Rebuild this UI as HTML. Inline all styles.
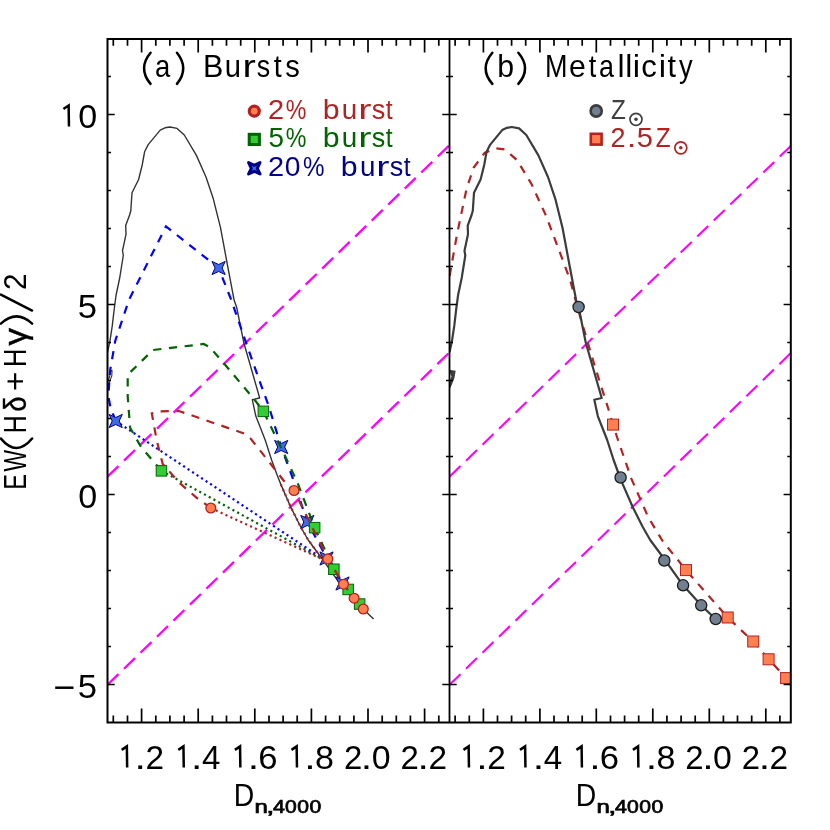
<!DOCTYPE html>
<html><head><meta charset="utf-8"><title>chart</title>
<style>
html,body{margin:0;padding:0;background:#fff;}
svg{display:block}
text{font-family:"Liberation Sans",sans-serif;}
svg{will-change:transform;opacity:0.999;}
</style></head><body>
<svg width="830" height="830" viewBox="0 0 830 830">
<rect x="0" y="0" width="830" height="830" fill="#ffffff"/>
<defs>
<clipPath id="cl"><rect x="107.5" y="39.0" width="342.0" height="683.5"/></clipPath>
<clipPath id="cr"><rect x="449.5" y="39.0" width="341.3" height="683.5"/></clipPath>
</defs>
<g clip-path="url(#cl)" fill="none">
<line x1="107.5" y1="476.7" x2="449.5" y2="145.2" stroke="#ff00ff" stroke-width="2.3" stroke-dasharray="15.3 7.7"/>
<line x1="107.5" y1="684.8" x2="449.5" y2="352.4" stroke="#ff00ff" stroke-width="2.3" stroke-dasharray="15.3 7.7"/>
<polyline points="107.5,352.2 109.9,341.3 112.3,325.7 114.1,310.0 116.1,295.0 119.7,278.0 123.3,255.5 122.5,250.7 126.0,234.3 125.7,225.6 129.6,215.0 130.8,210.8 132.0,192.8 138.6,179.5 142.2,165.0 144.6,151.8 148.2,144.6 160.2,130.1 165.0,127.8 169.9,127.0 177.1,128.4 184.3,135.0 196.4,155.4 206.0,177.0 213.3,198.8 220.5,227.7 227.7,266.3 234.1,300.0 236.6,307.0 243.8,342.7 259.7,398.0 252.3,399.7 255.8,416.1 265.2,440.0 271.6,460.0 277.3,475.5 280.7,484.1 290.8,507.2 300.5,526.5 308.2,540.0 322.3,559.0 341.1,585.3 359.2,605.3 373.6,619.1" stroke="#333" stroke-width="1.4" stroke-linejoin="round"/>
<polyline points="107.5,386.0 109.0,383.0 111.8,376.0 112.0,370.5 110.8,370.8 109.5,377.0 107.8,381.0" stroke="#333" stroke-width="1.1"/>
<line x1="115.7" y1="421" x2="324" y2="559.5" stroke="#0000ff" stroke-width="2.2" stroke-dasharray="2.1 3.3"/>
<polyline points="115.7,421.0 110.5,407.5 108.3,396.0 110.2,370.0 115.2,341.0 128.9,300.0 166.0,226.4 218.6,268.0 231.3,300.0 244.6,338.6 259.0,379.5 268.7,406.0 281.2,447.0 292.8,478.3 307.3,522.0 327.0,558.5 343.0,583.5" stroke="#0000ff" stroke-width="2.2" stroke-dasharray="8.2 7.6"/>
<polygon points="119.2,421.0 122.3,427.6 115.7,424.5 109.1,427.6 112.2,421.0 109.1,414.4 115.7,417.5 122.3,414.4" fill="#4169e1" stroke="#00008b" stroke-width="1" stroke-linejoin="miter"/>
<polygon points="222.1,268.0 225.2,274.6 218.6,271.5 212.0,274.6 215.1,268.0 212.0,261.4 218.6,264.5 225.2,261.4" fill="#4169e1" stroke="#00008b" stroke-width="1" stroke-linejoin="miter"/>
<polygon points="284.7,447.0 287.8,453.6 281.2,450.5 274.6,453.6 277.7,447.0 274.6,440.4 281.2,443.5 287.8,440.4" fill="#4169e1" stroke="#00008b" stroke-width="1" stroke-linejoin="miter"/>
<polygon points="310.8,522.0 313.9,528.6 307.3,525.5 300.7,528.6 303.8,522.0 300.7,515.4 307.3,518.5 313.9,515.4" fill="#4169e1" stroke="#00008b" stroke-width="1" stroke-linejoin="miter"/>
<polygon points="330.0,558.5 333.1,565.1 326.5,562.0 319.9,565.1 323.0,558.5 319.9,551.9 326.5,555.0 333.1,551.9" fill="#4169e1" stroke="#00008b" stroke-width="1" stroke-linejoin="miter"/>
<polygon points="346.0,583.5 349.1,590.1 342.5,587.0 335.9,590.1 339.0,583.5 335.9,576.9 342.5,580.0 349.1,576.9" fill="#4169e1" stroke="#00008b" stroke-width="1" stroke-linejoin="miter"/>
<line x1="161.4" y1="470.8" x2="325" y2="560.4" stroke="#006400" stroke-width="2.2" stroke-dasharray="2.1 3.3"/>
<polyline points="161.4,470.8 141.0,447.0 130.1,427.7 127.7,396.4 127.7,374.7 153.0,350.0 203.6,344.0 209.6,347.0 225.3,365.0 254.2,399.3 263.4,411.3 283.1,451.8 297.6,483.0 314.6,527.6 333.9,569.3 348.1,589.5 359.6,604.0" stroke="#006400" stroke-width="2.2" stroke-dasharray="8.2 7.6"/>
<rect x="156.2" y="465.6" width="10.5" height="10.5" fill="#32cd32" stroke="#006400" stroke-width="1"/>
<rect x="258.1" y="406.1" width="10.5" height="10.5" fill="#32cd32" stroke="#006400" stroke-width="1"/>
<rect x="309.4" y="522.4" width="10.5" height="10.5" fill="#32cd32" stroke="#006400" stroke-width="1"/>
<rect x="328.6" y="564.0" width="10.5" height="10.5" fill="#32cd32" stroke="#006400" stroke-width="1"/>
<rect x="342.9" y="584.2" width="10.5" height="10.5" fill="#32cd32" stroke="#006400" stroke-width="1"/>
<rect x="354.4" y="598.8" width="10.5" height="10.5" fill="#32cd32" stroke="#006400" stroke-width="1"/>
<line x1="210.8" y1="508" x2="326" y2="560.9" stroke="#b22222" stroke-width="2.2" stroke-dasharray="2.1 3.3"/>
<polyline points="280.7,484.1 290.8,507.2 300.5,526.5 308.2,540 322.3,559 326,563" stroke="#b22222" stroke-width="2.2" stroke-dasharray="2.1 3.3"/>
<polyline points="210.8,508.0 196.4,497.6 179.5,483.0 162.7,463.9 156.6,439.8 151.8,413.3 160.2,411.3 179.0,411.0 203.6,419.5 244.6,433.7 250.6,438.6 268.7,461.4 285.5,483.0 294.0,490.5 327.8,558.9 343.5,584.2 354.1,598.2 363.3,609.0" stroke="#b22222" stroke-width="2.2" stroke-dasharray="8.2 7.6"/>
<circle cx="210.8" cy="508.0" r="4.9" fill="#ff7f50" stroke="#b22222" stroke-width="1.3"/>
<circle cx="294.0" cy="490.5" r="4.9" fill="#ff7f50" stroke="#b22222" stroke-width="1.3"/>
<circle cx="327.8" cy="558.9" r="4.9" fill="#ff7f50" stroke="#b22222" stroke-width="1.3"/>
<circle cx="343.5" cy="584.2" r="4.9" fill="#ff7f50" stroke="#b22222" stroke-width="1.3"/>
<circle cx="354.1" cy="598.2" r="4.9" fill="#ff7f50" stroke="#b22222" stroke-width="1.3"/>
<circle cx="363.3" cy="609.0" r="4.9" fill="#ff7f50" stroke="#b22222" stroke-width="1.3"/>
</g>
<g clip-path="url(#cr)" fill="none">
<line x1="449.5" y1="476.7" x2="791.5" y2="145.2" stroke="#ff00ff" stroke-width="2.1" stroke-dasharray="15.3 7.7"/>
<line x1="449.5" y1="684.8" x2="791.5" y2="352.4" stroke="#ff00ff" stroke-width="2.1" stroke-dasharray="15.3 7.7"/>
<polyline points="449.6,276.0 456.9,235.0 466.5,189.0 473.7,167.5 484.6,153.0 495.4,148.2 505.0,149.4 517.1,160.2 531.6,184.3 546.0,215.7 560.5,254.2 570.1,280.0 578.6,311.3 594.2,364.3 608.7,410.0 613.0,424.6 618.0,440.0 631.3,478.6 648.2,517.1 662.7,541.2 686.0,570.1 727.7,617.5 753.2,641.5 768.6,659.3 786.1,678.1" stroke="#b22222" stroke-width="2.2" stroke-dasharray="8.2 7.6"/>
<polyline points="449.5,352.2 451.9,341.3 454.3,325.7 456.1,310.0 458.1,295.0 461.7,278.0 465.3,255.5 464.5,250.7 468.0,234.3 467.7,225.6 471.6,215.0 472.8,210.8 474.0,192.8 480.6,179.5 484.2,165.0 486.6,151.8 490.2,144.6 502.2,130.1 507.0,127.8 511.9,127.0 519.1,128.4 526.3,135.0 538.4,155.4 548.0,177.0 555.3,198.8 562.5,227.7 569.7,266.3 576.1,300.0 578.6,307.0 585.8,342.7 601.7,398.0 594.3,399.7 597.8,416.1 607.2,440.0 613.6,460.0 619.3,475.5 622.7,484.1 632.8,507.2 642.5,526.5 650.2,540.0 664.3,559.0 683.1,585.3 701.2,605.3 715.6,619.1" stroke="#3c3c3c" stroke-width="2.2" stroke-linejoin="round"/>
<polygon points="450.3,370.6 455.0,371.2 453.8,378.0 450.0,387.5 449.5,383.0 452.2,376.5 451.0,374.0" fill="#3c3c3c" stroke="#3c3c3c" stroke-width="1.2"/>
</g>
<g clip-path="url(#cr)">
<rect x="607.5" y="419.1" width="11.0" height="11.0" fill="#ff7f50" stroke="#b22222" stroke-width="1"/>
<rect x="680.5" y="564.6" width="11.0" height="11.0" fill="#ff7f50" stroke="#b22222" stroke-width="1"/>
<rect x="722.2" y="612.0" width="11.0" height="11.0" fill="#ff7f50" stroke="#b22222" stroke-width="1"/>
<rect x="747.7" y="636.0" width="11.0" height="11.0" fill="#ff7f50" stroke="#b22222" stroke-width="1"/>
<rect x="763.1" y="653.8" width="11.0" height="11.0" fill="#ff7f50" stroke="#b22222" stroke-width="1"/>
<rect x="780.6" y="672.6" width="11.0" height="11.0" fill="#ff7f50" stroke="#b22222" stroke-width="1"/>
<circle cx="578.6" cy="307.0" r="5.6" fill="#708090" stroke="#1a1a1a" stroke-width="1.3"/>
<circle cx="620.6" cy="477.5" r="5.6" fill="#708090" stroke="#1a1a1a" stroke-width="1.3"/>
<circle cx="664.3" cy="560.5" r="5.6" fill="#708090" stroke="#1a1a1a" stroke-width="1.3"/>
<circle cx="683.1" cy="585.3" r="5.6" fill="#708090" stroke="#1a1a1a" stroke-width="1.3"/>
<circle cx="701.2" cy="605.3" r="5.6" fill="#708090" stroke="#1a1a1a" stroke-width="1.3"/>
<circle cx="715.7" cy="619.0" r="5.6" fill="#708090" stroke="#1a1a1a" stroke-width="1.3"/>
</g>
<g stroke="#000" stroke-width="2" fill="none" stroke-linecap="butt">
<rect x="107.5" y="39.0" width="683.3" height="683.5"/>
<line x1="449.5" y1="39.0" x2="449.5" y2="722.5" stroke-width="1.8"/>
<path d="M113.3 722.5 V715.5 M113.3 39.0 V45.8 M127.5 722.5 V715.5 M127.5 39.0 V45.8 M141.6 722.5 V708.5 M141.6 39.0 V52.5 M155.8 722.5 V715.5 M155.8 39.0 V45.8 M169.9 722.5 V715.5 M169.9 39.0 V45.8 M184.1 722.5 V715.5 M184.1 39.0 V45.8 M198.2 722.5 V708.5 M198.2 39.0 V52.5 M212.4 722.5 V715.5 M212.4 39.0 V45.8 M226.5 722.5 V715.5 M226.5 39.0 V45.8 M240.7 722.5 V715.5 M240.7 39.0 V45.8 M254.8 722.5 V708.5 M254.8 39.0 V52.5 M269.0 722.5 V715.5 M269.0 39.0 V45.8 M283.1 722.5 V715.5 M283.1 39.0 V45.8 M297.2 722.5 V715.5 M297.2 39.0 V45.8 M311.4 722.5 V708.5 M311.4 39.0 V52.5 M325.6 722.5 V715.5 M325.6 39.0 V45.8 M339.7 722.5 V715.5 M339.7 39.0 V45.8 M353.9 722.5 V715.5 M353.9 39.0 V45.8 M368.0 722.5 V708.5 M368.0 39.0 V52.5 M382.2 722.5 V715.5 M382.2 39.0 V45.8 M396.3 722.5 V715.5 M396.3 39.0 V45.8 M410.4 722.5 V715.5 M410.4 39.0 V45.8 M424.6 722.5 V708.5 M424.6 39.0 V52.5 M438.8 722.5 V715.5 M438.8 39.0 V45.8 M455.1 722.5 V715.5 M455.1 39.0 V45.8 M469.3 722.5 V715.5 M469.3 39.0 V45.8 M483.4 722.5 V708.5 M483.4 39.0 V52.5 M497.5 722.5 V715.5 M497.5 39.0 V45.8 M511.6 722.5 V715.5 M511.6 39.0 V45.8 M525.7 722.5 V715.5 M525.7 39.0 V45.8 M539.9 722.5 V708.5 M539.9 39.0 V52.5 M554.0 722.5 V715.5 M554.0 39.0 V45.8 M568.1 722.5 V715.5 M568.1 39.0 V45.8 M582.2 722.5 V715.5 M582.2 39.0 V45.8 M596.3 722.5 V708.5 M596.3 39.0 V52.5 M610.5 722.5 V715.5 M610.5 39.0 V45.8 M624.6 722.5 V715.5 M624.6 39.0 V45.8 M638.7 722.5 V715.5 M638.7 39.0 V45.8 M652.8 722.5 V708.5 M652.8 39.0 V52.5 M666.9 722.5 V715.5 M666.9 39.0 V45.8 M681.1 722.5 V715.5 M681.1 39.0 V45.8 M695.2 722.5 V715.5 M695.2 39.0 V45.8 M709.3 722.5 V708.5 M709.3 39.0 V52.5 M723.4 722.5 V715.5 M723.4 39.0 V45.8 M737.5 722.5 V715.5 M737.5 39.0 V45.8 M751.7 722.5 V715.5 M751.7 39.0 V45.8 M765.8 722.5 V708.5 M765.8 39.0 V52.5 M779.9 722.5 V715.5 M779.9 39.0 V45.8 M107.5 684.5 H114.7 M442.3 684.5 H456.7 M790.8 684.5 H783.6 M107.5 646.5 H111.0 M446.0 646.5 H453.0 M790.8 646.5 H787.3 M107.5 608.5 H111.0 M446.0 608.5 H453.0 M790.8 608.5 H787.3 M107.5 570.5 H111.0 M446.0 570.5 H453.0 M790.8 570.5 H787.3 M107.5 532.5 H111.0 M446.0 532.5 H453.0 M790.8 532.5 H787.3 M107.5 494.5 H114.7 M442.3 494.5 H456.7 M790.8 494.5 H783.6 M107.5 456.5 H111.0 M446.0 456.5 H453.0 M790.8 456.5 H787.3 M107.5 418.5 H111.0 M446.0 418.5 H453.0 M790.8 418.5 H787.3 M107.5 380.5 H111.0 M446.0 380.5 H453.0 M790.8 380.5 H787.3 M107.5 342.5 H111.0 M446.0 342.5 H453.0 M790.8 342.5 H787.3 M107.5 304.5 H114.7 M442.3 304.5 H456.7 M790.8 304.5 H783.6 M107.5 266.5 H111.0 M446.0 266.5 H453.0 M790.8 266.5 H787.3 M107.5 228.5 H111.0 M446.0 228.5 H453.0 M790.8 228.5 H787.3 M107.5 190.5 H111.0 M446.0 190.5 H453.0 M790.8 190.5 H787.3 M107.5 152.5 H111.0 M446.0 152.5 H453.0 M790.8 152.5 H787.3 M107.5 114.5 H114.7 M442.3 114.5 H456.7 M790.8 114.5 H783.6 M107.5 76.5 H111.0 M446.0 76.5 H453.0 M790.8 76.5 H787.3" stroke-width="1.7"/>
</g>
<path d="M121.70 749.90 L126.85 746.40 L127.15 767.50" fill="none" stroke="#000" stroke-width="2.5" stroke-linejoin="miter"/>
<text transform="translate(134.46,768.70) scale(1.241,1)" font-size="33" fill="#000">.</text>
<text transform="translate(145.42,768.70) scale(1.011,1)" font-size="33" fill="#000">2</text>
<path d="M178.30 749.90 L183.45 746.40 L183.75 767.50" fill="none" stroke="#000" stroke-width="2.5" stroke-linejoin="miter"/>
<text transform="translate(191.06,768.70) scale(1.241,1)" font-size="33" fill="#000">.</text>
<text transform="translate(202.04,768.70) scale(1.004,1)" font-size="33" fill="#000">4</text>
<path d="M234.90 749.90 L240.05 746.40 L240.35 767.50" fill="none" stroke="#000" stroke-width="2.5" stroke-linejoin="miter"/>
<text transform="translate(247.66,768.70) scale(1.241,1)" font-size="33" fill="#000">.</text>
<text transform="translate(258.14,768.70) scale(1.051,1)" font-size="33" fill="#000">6</text>
<path d="M291.50 749.90 L296.65 746.40 L296.95 767.50" fill="none" stroke="#000" stroke-width="2.5" stroke-linejoin="miter"/>
<text transform="translate(304.26,768.70) scale(1.241,1)" font-size="33" fill="#000">.</text>
<text transform="translate(315.02,768.70) scale(1.033,1)" font-size="33" fill="#000">8</text>
<text transform="translate(343.94,768.70) scale(0.998,1)" font-size="33" fill="#000">2</text>
<text transform="translate(360.86,768.70) scale(1.241,1)" font-size="33" fill="#000">.</text>
<text transform="translate(371.68,768.70) scale(1.027,1)" font-size="33" fill="#000">0</text>
<text transform="translate(400.54,768.70) scale(0.998,1)" font-size="33" fill="#000">2</text>
<text transform="translate(417.46,768.70) scale(1.241,1)" font-size="33" fill="#000">.</text>
<text transform="translate(428.42,768.70) scale(1.011,1)" font-size="33" fill="#000">2</text>
<path d="M463.49 749.90 L468.64 746.40 L468.94 767.50" fill="none" stroke="#000" stroke-width="2.5" stroke-linejoin="miter"/>
<text transform="translate(476.25,768.70) scale(1.241,1)" font-size="33" fill="#000">.</text>
<text transform="translate(487.21,768.70) scale(1.011,1)" font-size="33" fill="#000">2</text>
<path d="M519.97 749.90 L525.12 746.40 L525.42 767.50" fill="none" stroke="#000" stroke-width="2.5" stroke-linejoin="miter"/>
<text transform="translate(532.73,768.70) scale(1.241,1)" font-size="33" fill="#000">.</text>
<text transform="translate(543.71,768.70) scale(1.004,1)" font-size="33" fill="#000">4</text>
<path d="M576.45 749.90 L581.60 746.40 L581.90 767.50" fill="none" stroke="#000" stroke-width="2.5" stroke-linejoin="miter"/>
<text transform="translate(589.21,768.70) scale(1.241,1)" font-size="33" fill="#000">.</text>
<text transform="translate(599.69,768.70) scale(1.051,1)" font-size="33" fill="#000">6</text>
<path d="M632.93 749.90 L638.08 746.40 L638.38 767.50" fill="none" stroke="#000" stroke-width="2.5" stroke-linejoin="miter"/>
<text transform="translate(645.69,768.70) scale(1.241,1)" font-size="33" fill="#000">.</text>
<text transform="translate(656.45,768.70) scale(1.033,1)" font-size="33" fill="#000">8</text>
<text transform="translate(685.25,768.70) scale(0.998,1)" font-size="33" fill="#000">2</text>
<text transform="translate(702.17,768.70) scale(1.241,1)" font-size="33" fill="#000">.</text>
<text transform="translate(712.98,768.70) scale(1.027,1)" font-size="33" fill="#000">0</text>
<text transform="translate(741.73,768.70) scale(0.998,1)" font-size="33" fill="#000">2</text>
<text transform="translate(758.65,768.70) scale(1.241,1)" font-size="33" fill="#000">.</text>
<text transform="translate(769.61,768.70) scale(1.011,1)" font-size="33" fill="#000">2</text>
<path d="M63.40 109.00 L68.65 105.50 L68.95 126.60" fill="none" stroke="#000" stroke-width="2.5" stroke-linejoin="miter"/>
<text transform="translate(78.37,127.80) scale(1.033,1)" font-size="33" fill="#000">0</text>
<text transform="translate(77.82,317.80) scale(1.048,1)" font-size="33" fill="#000">5</text>
<text transform="translate(78.37,507.80) scale(1.033,1)" font-size="33" fill="#000">0</text>
<line x1="55.2" y1="687.7" x2="73.5" y2="687.7" stroke="#000" stroke-width="2.5"/>
<text transform="translate(77.82,697.80) scale(1.048,1)" font-size="33" fill="#000">5</text>
<path d="M150.55 52.70 Q137.55 68.30 150.55 83.90" fill="none" stroke="#000" stroke-width="2.5" stroke-linecap="round"/>
<text transform="translate(154.93,77.30) scale(0.885,1)" font-size="31" fill="#000">a</text>
<path d="M176.95 52.70 Q189.55 68.30 176.95 83.90" fill="none" stroke="#000" stroke-width="2.5" stroke-linecap="round"/>
<text transform="translate(203.00,77.30) scale(0.982,1)" font-size="31" fill="#000">B</text>
<text transform="translate(224.80,77.30) scale(0.942,1)" font-size="31" fill="#000">u</text>
<text transform="translate(242.44,77.30) scale(1.290,1)" font-size="31" fill="#000">r</text>
<text transform="translate(256.75,77.30) scale(0.866,1)" font-size="31" fill="#000">s</text>
<text transform="translate(273.67,77.30) scale(0.922,1)" font-size="31" fill="#000">t</text>
<text transform="translate(285.19,77.30) scale(0.940,1)" font-size="31" fill="#000">s</text>
<path d="M492.35 52.70 Q478.95 68.30 492.35 83.90" fill="none" stroke="#000" stroke-width="2.5" stroke-linecap="round"/>
<text transform="translate(497.35,77.30) scale(0.976,1)" font-size="31" fill="#000">b</text>
<path d="M518.35 52.70 Q531.75 68.30 518.35 83.90" fill="none" stroke="#000" stroke-width="2.5" stroke-linecap="round"/>
<text transform="translate(545.08,77.30) scale(0.873,1)" font-size="31" fill="#000">M</text>
<text transform="translate(569.11,77.30) scale(0.976,1)" font-size="31" fill="#000">e</text>
<text transform="translate(588.79,77.30) scale(0.872,1)" font-size="31" fill="#000">t</text>
<text transform="translate(599.06,77.30) scale(0.867,1)" font-size="31" fill="#000">a</text>
<text transform="translate(617.45,77.30) scale(1.028,1)" font-size="31" fill="#000">l</text>
<text transform="translate(625.15,77.30) scale(1.028,1)" font-size="31" fill="#000">l</text>
<text transform="translate(632.69,77.30) scale(1.064,1)" font-size="31" fill="#000">i</text>
<text transform="translate(641.18,77.30) scale(1.003,1)" font-size="31" fill="#000">c</text>
<text transform="translate(658.79,77.30) scale(1.064,1)" font-size="31" fill="#000">i</text>
<text transform="translate(667.44,77.30) scale(0.985,1)" font-size="31" fill="#000">t</text>
<text transform="translate(678.93,77.30) scale(0.879,1)" font-size="31" fill="#000">y</text>
<text transform="translate(268.04,119.10) scale(1.020,1)" font-size="28.4" fill="#b22222">2</text>
<text transform="translate(285.87,119.10) scale(0.818,1)" font-size="28.4" fill="#b22222">%</text>
<text transform="translate(322.65,119.10) scale(1.065,1)" font-size="28.4" fill="#b22222">b</text>
<text transform="translate(341.80,119.10) scale(0.978,1)" font-size="28.4" fill="#b22222">u</text>
<text transform="translate(358.17,119.10) scale(1.394,1)" font-size="28.4" fill="#b22222">r</text>
<text transform="translate(371.75,119.10) scale(0.953,1)" font-size="28.4" fill="#b22222">s</text>
<text transform="translate(385.73,119.10) scale(0.869,1)" font-size="28.4" fill="#b22222">t</text>
<text transform="translate(268.39,147.20) scale(0.980,1)" font-size="28.4" fill="#006400">5</text>
<text transform="translate(285.87,147.20) scale(0.818,1)" font-size="28.4" fill="#006400">%</text>
<text transform="translate(322.65,147.20) scale(1.065,1)" font-size="28.4" fill="#006400">b</text>
<text transform="translate(341.80,147.20) scale(0.978,1)" font-size="28.4" fill="#006400">u</text>
<text transform="translate(358.17,147.20) scale(1.394,1)" font-size="28.4" fill="#006400">r</text>
<text transform="translate(371.75,147.20) scale(0.953,1)" font-size="28.4" fill="#006400">s</text>
<text transform="translate(385.73,147.20) scale(0.869,1)" font-size="28.4" fill="#006400">t</text>
<text transform="translate(268.04,175.80) scale(1.020,1)" font-size="28.4" fill="#00008b">2</text>
<text transform="translate(284.70,175.80) scale(0.994,1)" font-size="28.4" fill="#00008b">0</text>
<text transform="translate(303.04,175.80) scale(0.852,1)" font-size="28.4" fill="#00008b">%</text>
<text transform="translate(340.75,175.80) scale(1.065,1)" font-size="28.4" fill="#00008b">b</text>
<text transform="translate(359.90,175.80) scale(0.978,1)" font-size="28.4" fill="#00008b">u</text>
<text transform="translate(376.27,175.80) scale(1.394,1)" font-size="28.4" fill="#00008b">r</text>
<text transform="translate(389.85,175.80) scale(0.953,1)" font-size="28.4" fill="#00008b">s</text>
<text transform="translate(403.83,175.80) scale(0.869,1)" font-size="28.4" fill="#00008b">t</text>
<text transform="translate(611.03,118.90) scale(0.855,1)" font-size="28.4" fill="#404040">Z</text>
<text transform="translate(610.44,147.40) scale(0.951,1)" font-size="28.4" fill="#b22222">2</text>
<text transform="translate(626.74,147.40) scale(1.220,1)" font-size="28.4" fill="#b22222">.</text>
<text transform="translate(636.63,147.40) scale(1.025,1)" font-size="28.4" fill="#b22222">5</text>
<text transform="translate(655.83,147.40) scale(0.855,1)" font-size="28.4" fill="#b22222">Z</text>
<circle cx="254.3" cy="111.1" r="5.0" fill="#ff7f50" stroke="#b22222" stroke-width="3.2"/>
<rect x="249.2" y="134.3" width="10.2" height="10.2" fill="#32cd32" stroke="#006400" stroke-width="3"/>
<polygon points="257.3,168.3 260.0,174.0 254.3,171.3 248.6,174.0 251.3,168.3 248.6,162.6 254.3,165.3 260.0,162.6" fill="#4169e1" stroke="#00008b" stroke-width="3" stroke-linejoin="round"/>
<circle cx="596.2" cy="111.0" r="5.6" fill="#708090" stroke="#3c3c3c" stroke-width="2.6"/>
<rect x="590.8" y="133.8" width="10.8" height="10.8" fill="#ff7f50" stroke="#b22222" stroke-width="2.6"/>
<circle cx="636.0" cy="119.3" r="6" fill="none" stroke="#404040" stroke-width="1.7"/><circle cx="636.0" cy="119.3" r="1.8" fill="#404040"/>
<circle cx="680.8" cy="147.8" r="6" fill="none" stroke="#b22222" stroke-width="1.7"/><circle cx="680.8" cy="147.8" r="1.8" fill="#b22222"/>
<text transform="translate(233.87,806.00) scale(0.915,1)" font-size="31" fill="#000">D</text>
<text stroke="#000" stroke-width="0.7" transform="translate(254.51,813.40) scale(1.334,1)" font-size="18" fill="#000">n</text>
<text stroke="#000" stroke-width="0.7" transform="translate(266.20,813.40) scale(1.600,1)" font-size="18" fill="#000">,</text>
<text stroke="#000" stroke-width="0.7" transform="translate(273.01,813.40) scale(1.191,1)" font-size="18" fill="#000">4</text>
<text stroke="#000" stroke-width="0.7" transform="translate(284.97,813.40) scale(1.174,1)" font-size="18" fill="#000">0</text>
<text stroke="#000" stroke-width="0.7" transform="translate(297.27,813.40) scale(1.174,1)" font-size="18" fill="#000">0</text>
<text stroke="#000" stroke-width="0.7" transform="translate(309.57,813.40) scale(1.174,1)" font-size="18" fill="#000">0</text>
<text transform="translate(575.87,806.00) scale(0.915,1)" font-size="31" fill="#000">D</text>
<text stroke="#000" stroke-width="0.7" transform="translate(596.51,813.40) scale(1.334,1)" font-size="18" fill="#000">n</text>
<text stroke="#000" stroke-width="0.7" transform="translate(608.20,813.40) scale(1.600,1)" font-size="18" fill="#000">,</text>
<text stroke="#000" stroke-width="0.7" transform="translate(615.01,813.40) scale(1.191,1)" font-size="18" fill="#000">4</text>
<text stroke="#000" stroke-width="0.7" transform="translate(626.97,813.40) scale(1.174,1)" font-size="18" fill="#000">0</text>
<text stroke="#000" stroke-width="0.7" transform="translate(639.27,813.40) scale(1.174,1)" font-size="18" fill="#000">0</text>
<text stroke="#000" stroke-width="0.7" transform="translate(651.57,813.40) scale(1.174,1)" font-size="18" fill="#000">0</text>
<g transform="translate(25.5,488.5) rotate(-90)">
<text transform="translate(-1.34,0.00) scale(0.762,1)" font-size="31" fill="#000">E</text>
<text transform="translate(17.10,0.00) scale(0.737,1)" font-size="31" fill="#000">W</text>
<text transform="translate(55.16,0.00) scale(0.803,1)" font-size="31" fill="#000">H</text>
<text transform="translate(97.25,0.00) scale(1.089,1)" font-size="31" fill="#000">+</text>
<text transform="translate(121.41,0.00) scale(0.820,1)" font-size="31" fill="#000">H</text>
<text transform="translate(198.61,0.00) scale(0.956,1)" font-size="31" fill="#000">2</text>
<text stroke="#000" stroke-width="0.4" transform="translate(76.64,0.00) scale(0.888,1)" font-size="31" fill="#000">δ</text>
<text stroke="#000" stroke-width="0.4" transform="translate(142.88,0.00) scale(1.125,1)" font-size="31" fill="#000">γ</text>
<path d="M49.95 -24.60 Q31.15 -9.00 49.95 6.60" fill="none" stroke="#000" stroke-width="2.5" stroke-linecap="round"/>
<path d="M164.95 -24.60 Q179.35 -9.00 164.95 6.60" fill="none" stroke="#000" stroke-width="2.5" stroke-linecap="round"/>
<path d="M177.95 6.60 L193.85 -24.60" fill="none" stroke="#000" stroke-width="2.5" stroke-linecap="round"/>
</g>
</svg>
</body></html>
